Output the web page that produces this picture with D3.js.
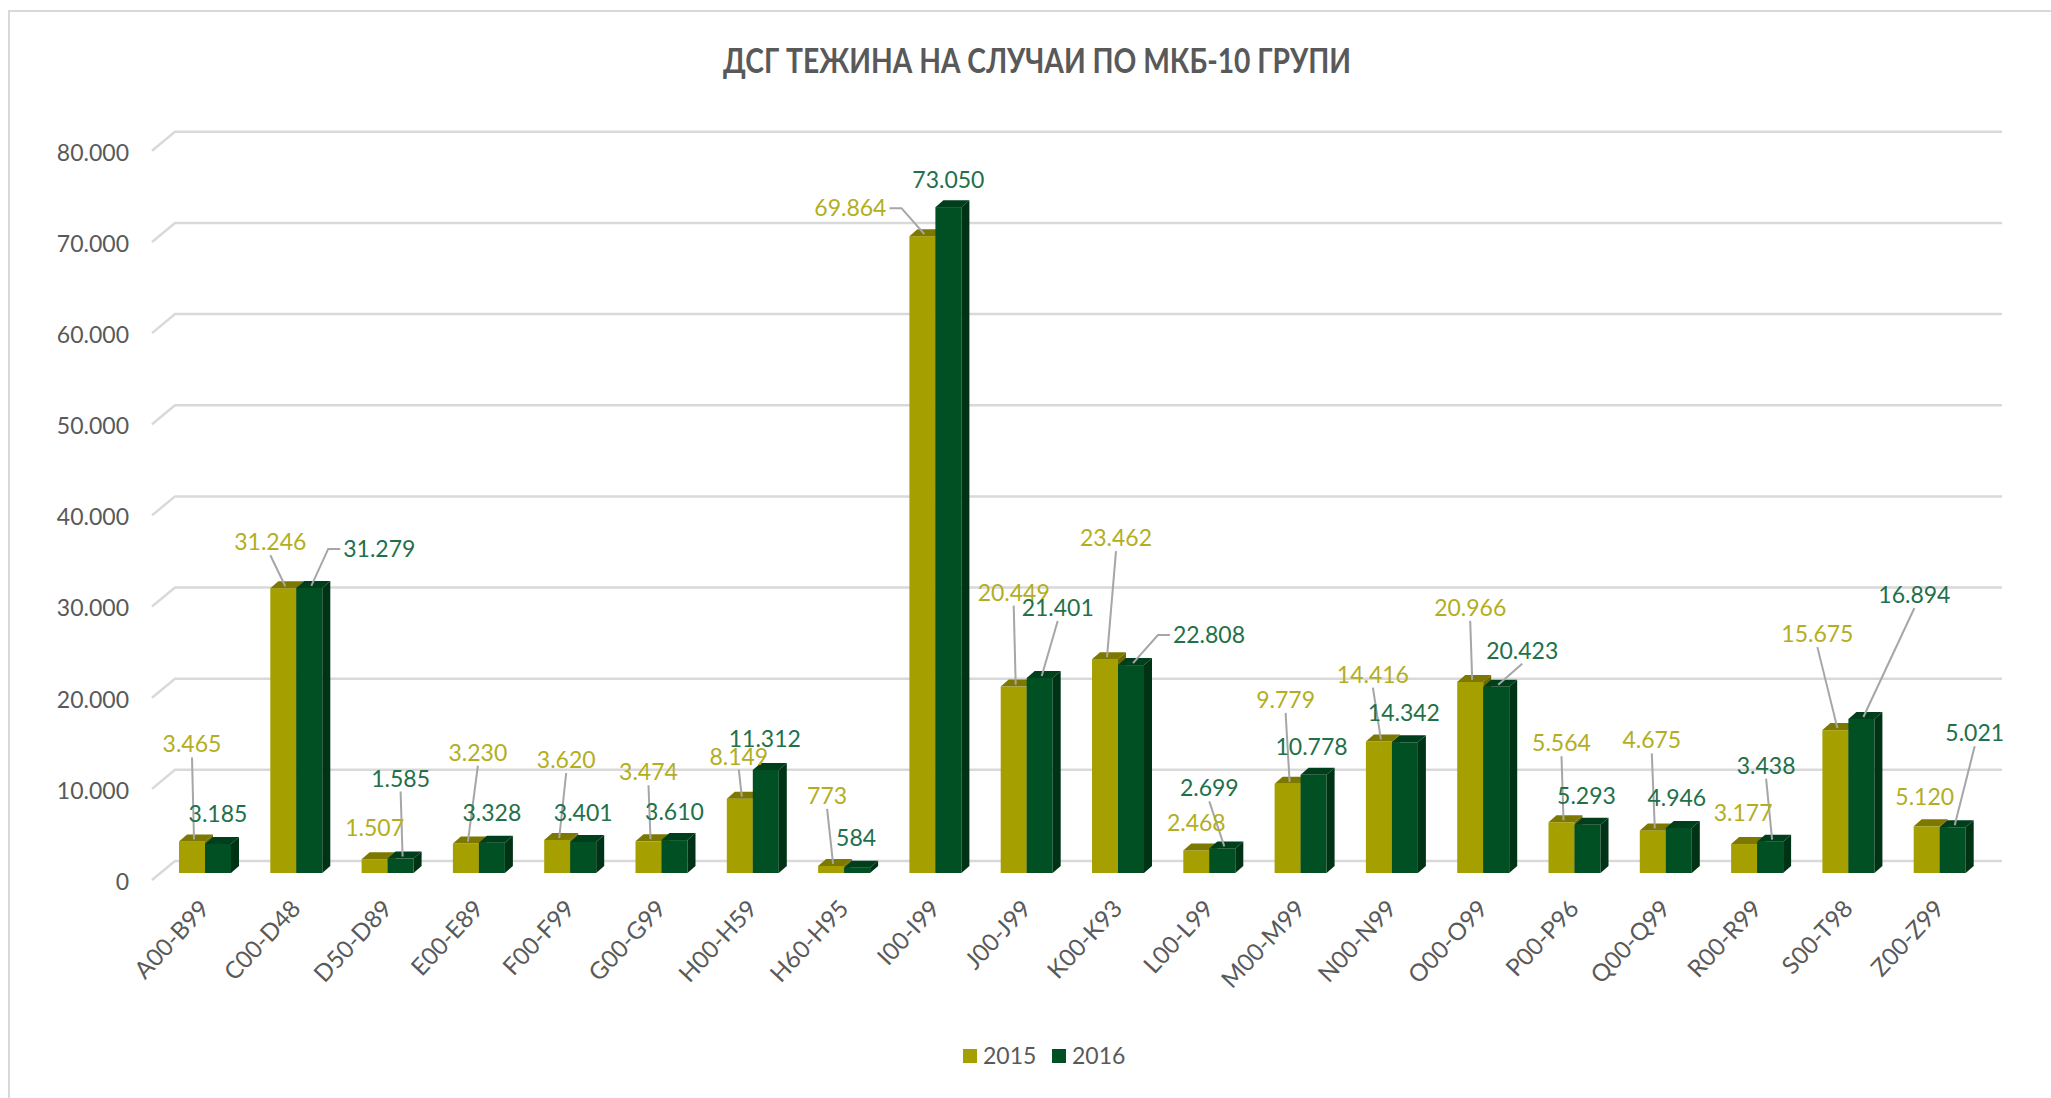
<!DOCTYPE html>
<html>
<head>
<meta charset="utf-8">
<script src="https://cdn.jsdelivr.net/npm/d3@7"></script>
<style>
  html, body { margin: 0; padding: 0; background: #fff; }
  svg { display: block; }
</style>
</head>
<body>
<div id="chart"></div>
<script>
const categories = ['A00-B99', 'C00-D48', 'D50-D89', 'E00-E89', 'F00-F99', 'G00-G99', 'H00-H59', 'H60-H95', 'I00-I99', 'J00-J99',
    'K00-K93', 'L00-L99', 'M00-M99', 'N00-N99', 'O00-O99', 'P00-P96', 'Q00-Q99', 'R00-R99', 'S00-T98', 'Z00-Z99'];
const seriesNames = ['2015', '2016'];
const values2015 = [3465, 31246, 1507, 3230, 3620, 3474, 8149, 773, 69864, 20449, 23462, 2468, 9779, 14416, 20966, 5564, 4675, 3177, 15675, 5120];
const values2016 = [3185, 31279, 1585, 3328, 3401, 3610, 11312, 584, 73050, 21401, 22808, 2699, 10778, 14342, 20423, 5293, 4946, 3438, 16894, 5021];
const yTicks = [0, 10000, 20000, 30000, 40000, 50000, 60000, 70000, 80000];
const title = 'ДСГ ТЕЖИНА НА СЛУЧАИ ПО МКБ-10 ГРУПИ';

// label placement (offset of label centre from bar top, leader style: 0 none, 1 below label, 2 stub on left, 3 stub on right)
const labelDx2015 = [0, -13, 0, 12, 9, 0, -1, -4, -72, 0, 11, 0, -2, -6, 0, 0, -1, -1, -18, -2];
const labelDy2015 = [-97, -46, -31, -91, -80, -69, -42, -70, -28, -94, -121, -28, -84, -67, -74, -79, -90, -31, -96, -29];
const leader2015 = [1, 1, 0, 1, 1, 1, 1, 1, 3, 1, 1, 0, 1, 1, 1, 1, 1, 0, 1, 0];
const labelDx2016 = [0, 70, 0, 0, 0, 0, -1, -1, 0, 18, 78, -13, -2, -1, 26, -1, -2, -4, 53, 22];
const labelDy2016 = [-30, -39, -80, -30, -29, -28, -31, -30, -27, -70, -30, -60, -28, -29, -36, -29, -30, -76, -124, -94];
const leader2016 = [0, 2, 1, 0, 0, 0, 0, 0, 0, 1, 2, 1, 0, 0, 1, 0, 0, 1, 1, 1];

const width = 2051, height = 1098;
const colors = {
    '2015': { front: '#a5a000', top: '#7d7900', side: '#6e6a00', label: '#b3ae1f' },
    '2016': { front: '#005024', top: '#003f1c', side: '#003316', label: '#22704a' }
};
const depth = { dx: 8, dy: -7 };        // bar depth
const floor = { dx: 23, dy: -19 };      // floor depth, front edge to back wall

const svg = d3.select('#chart').append('svg')
    .attr('width', width)
    .attr('height', height);

svg.append('rect')
    .attr('x', 9).attr('y', 11)
    .attr('width', 2200).attr('height', 1200)
    .attr('fill', '#fff')
    .attr('stroke', '#d9d9d9')
    .attr('stroke-width', 2);

const titleText = svg.append('text')
    .attr('x', 1037)
    .attr('y', 73)
    .attr('text-anchor', 'middle')
    .style('font-family', 'Lato, "Open Sans", "Noto Sans", sans-serif')
    .style('font-weight', 'bold')
    .style('font-size', '34px')
    .style('fill', '#595959')
    .text(title);
titleText.attr('textLength', 628).attr('lengthAdjust', 'spacingAndGlyphs');

const xScale = d3.scaleBand()
    .domain(categories)
    .range([160, 160 + 91.3 * categories.length]);

const seriesScale = d3.scaleBand()
    .domain(seriesNames)
    .range([19, 71]);

// y scale at the front plane of the bars
const yScale = d3.scaleLinear()
    .domain([0, 80000])
    .range([873, 873 - 729.2]);

const barW = seriesScale.bandwidth();
const fmt = v => d3.format(',')(v).replace(/,/g, '.');

// gridlines: back wall + floor diagonal
const grid = svg.append('g').attr('class', 'grid');
grid.selectAll('path')
    .data(yTicks)
    .enter()
    .append('path')
    .attr('d', t => {
        const yb = yScale(t) - 12;
        return `M${152},${yb - floor.dy}L${152 + floor.dx},${yb}L${2002},${yb}`;
    })
    .attr('fill', 'none')
    .attr('stroke', '#d9d9d9')
    .attr('stroke-width', 2.5);

// y axis
const yFront = d3.scaleLinear()
    .domain([0, 80000])
    .range([880, 880 - 729.2]);
const yAxis = svg.append('g')
    .attr('class', 'y-axis')
    .attr('transform', 'translate(141, 2)')
    .call(d3.axisLeft(yFront).tickValues(yTicks).tickSize(0).tickPadding(12).tickFormat(fmt));
yAxis.select('.domain').remove();
yAxis.selectAll('text')
    .style('font-family', 'Lato, "Open Sans", sans-serif')
    .style('font-size', '23px')
    .style('fill', '#595959');

// x axis
const xAxis = svg.append('g')
    .attr('class', 'x-axis')
    .attr('transform', 'translate(-1, 904)')
    .call(d3.axisBottom(xScale).tickSize(0));
xAxis.select('.domain').remove();
xAxis.selectAll('text')
    .attr('x', 0).attr('y', 0).attr('dy', '0.35em')
    .attr('transform', 'rotate(-47)')
    .style('text-anchor', 'end')
    .style('font-family', 'Lato, "Open Sans", sans-serif')
    .style('font-size', '24px')
    .style('fill', '#595959');

// bars
const bars = [];
categories.forEach((c, i) => {
    bars.push({ cat: c, i, s: '2015', v: values2015[i], ldx: labelDx2015[i], ldy: labelDy2015[i], lead: leader2015[i] });
    bars.push({ cat: c, i, s: '2016', v: values2016[i], ldx: labelDx2016[i], ldy: labelDy2016[i], lead: leader2016[i] });
});

const barG = svg.append('g').attr('class', 'bars')
    .selectAll('g')
    .data(bars)
    .enter()
    .append('g');

const bx = d => xScale(d.cat) + seriesScale(d.s);
const by = d => yScale(d.v);
const y0 = yScale(0);

barG.append('rect')
    .attr('x', bx)
    .attr('y', by)
    .attr('width', barW)
    .attr('height', d => y0 - by(d))
    .attr('fill', d => colors[d.s].front);

barG.append('path')
    .attr('d', d => {
        const x = bx(d), y = by(d);
        return `M${x},${y}L${x + depth.dx},${y + depth.dy}L${x + barW + depth.dx},${y + depth.dy}L${x + barW},${y}Z`;
    })
    .attr('fill', d => colors[d.s].top);

barG.append('path')
    .attr('d', d => {
        const x = bx(d) + barW, y = by(d);
        return `M${x},${y}L${x + depth.dx},${y + depth.dy}L${x + depth.dx},${y0 + depth.dy}L${x},${y0}Z`;
    })
    .attr('fill', d => colors[d.s].side);

// data labels + leader lines
const labG = svg.append('g').attr('class', 'labels');
const labelHalfH = 11;

bars.forEach(d => {
    const ax = bx(d) + barW / 2 + 2;
    const ay = by(d) - 2;
    const cx = bx(d) + barW / 2 + d.ldx;
    const cy = by(d) + d.ldy;
    const txt = labG.append('text')
        .attr('x', cx)
        .attr('y', cy)
        .attr('dy', '0.35em')
        .attr('text-anchor', 'middle')
        .style('font-family', 'Lato, "Open Sans", sans-serif')
        .style('font-size', '23px')
        .style('fill', colors[d.s].label)
        .text(fmt(d.v));
    if (d.lead === 0) return;
    const w = txt.node().getComputedTextLength();
    let pts;
    if (d.lead === 1) {
        pts = [[cx, cy + labelHalfH + 2], [ax, ay]];
    } else if (d.lead === 2) {
        const lx = cx - w / 2 - 3;
        pts = [[lx, cy], [lx - 12, cy], [ax, ay]];
    } else {
        const rx = cx + w / 2 + 3;
        pts = [[rx, cy], [rx + 12, cy], [ax, ay]];
    }
    labG.insert('path', 'text')
        .attr('d', d3.line()(pts))
        .attr('fill', 'none')
        .attr('stroke', '#a6a6a6')
        .attr('stroke-width', 2);
});

// legend
const legend = svg.append('g').attr('class', 'legend')
    .attr('transform', 'translate(963, 1049)');
const legItems = legend.selectAll('g')
    .data(seriesNames)
    .enter()
    .append('g')
    .attr('transform', (d, i) => `translate(${i * 89}, 0)`);
legItems.append('rect')
    .attr('width', 14).attr('height', 14)
    .attr('fill', d => colors[d].front);
legItems.append('text')
    .attr('x', 20).attr('y', 7)
    .attr('dy', '0.35em')
    .style('font-family', 'Lato, "Open Sans", sans-serif')
    .style('font-size', '23px')
    .style('fill', '#595959')
    .text(d => d);
</script>
</body>
</html>
